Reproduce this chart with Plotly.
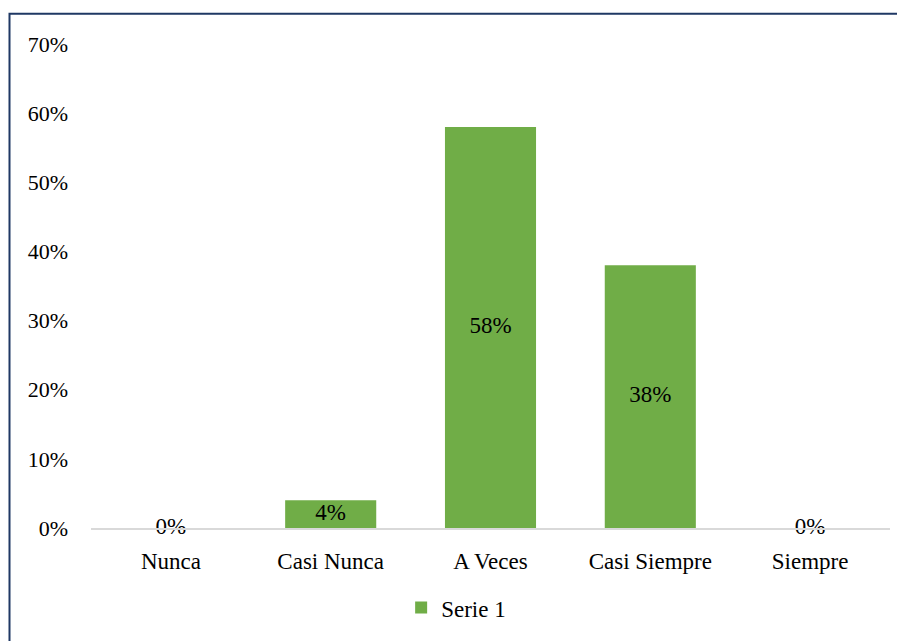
import plotly.graph_objects as go

categories = ["Nunca", "Casi Nunca", "A Veces", "Casi Siempre", "Siempre"]
values = [0.0, 0.04, 0.58, 0.38, 0.0]
labels = ["0%", "4%", "58%", "38%", "0%"]
series_name = "Serie 1"
tick_vals = [0, 0.1, 0.2, 0.3, 0.4, 0.5, 0.6, 0.7]
tick_text = ["0%", "10%", "20%", "30%", "40%", "50%", "60%", "70%"]

FONT = "Liberation Serif, Times New Roman, serif"
GREEN = "#70AD47"

fig = go.Figure()
fig.add_trace(go.Bar(
    x=categories, y=values, name=series_name,
    marker=dict(color=GREEN, line=dict(width=0)),
    showlegend=True,
))
fig.add_trace(go.Scatter(
    x=categories, y=[v / 2 for v in values], text=labels,
    mode="text", textposition="middle center", cliponaxis=False,
    textfont=dict(family=FONT, size=23, color="#000000"),
    showlegend=False, hoverinfo="skip",
))

fig.update_layout(
    width=897, height=633,
    margin=dict(l=83, r=15, t=36, b=110),
    paper_bgcolor="white", plot_bgcolor="white",
    font=dict(family=FONT, size=22, color="#000000"),
    bargap=0.43,
    showlegend=True,
    legend=dict(orientation="h", x=0.457, xanchor="center", y=-0.12, yanchor="top",
                font=dict(family=FONT, size=23, color="#000000"),
                itemwidth=30, bgcolor="rgba(0,0,0,0)"),
    xaxis=dict(showgrid=False, showline=True, linecolor="#D9D9D9", linewidth=2,
               ticks="", ticklabelstandoff=11,
               tickfont=dict(family=FONT, size=23, color="#000000")),
    yaxis=dict(range=[0, 0.7], tickvals=tick_vals, ticktext=tick_text,
               showgrid=False, zeroline=False, showline=False, ticks="",
               ticklabelstandoff=22,
               tickfont=dict(family=FONT, size=22, color="#000000")),
    shapes=[dict(type="rect", xref="paper", yref="paper",
                 x0=-0.102, x1=1.2, y0=-0.4, y1=1.0626,
                 line=dict(color="#1F3864", width=2), fillcolor="rgba(0,0,0,0)",
                 layer="above")],
)

fig.write_html("out.html")
